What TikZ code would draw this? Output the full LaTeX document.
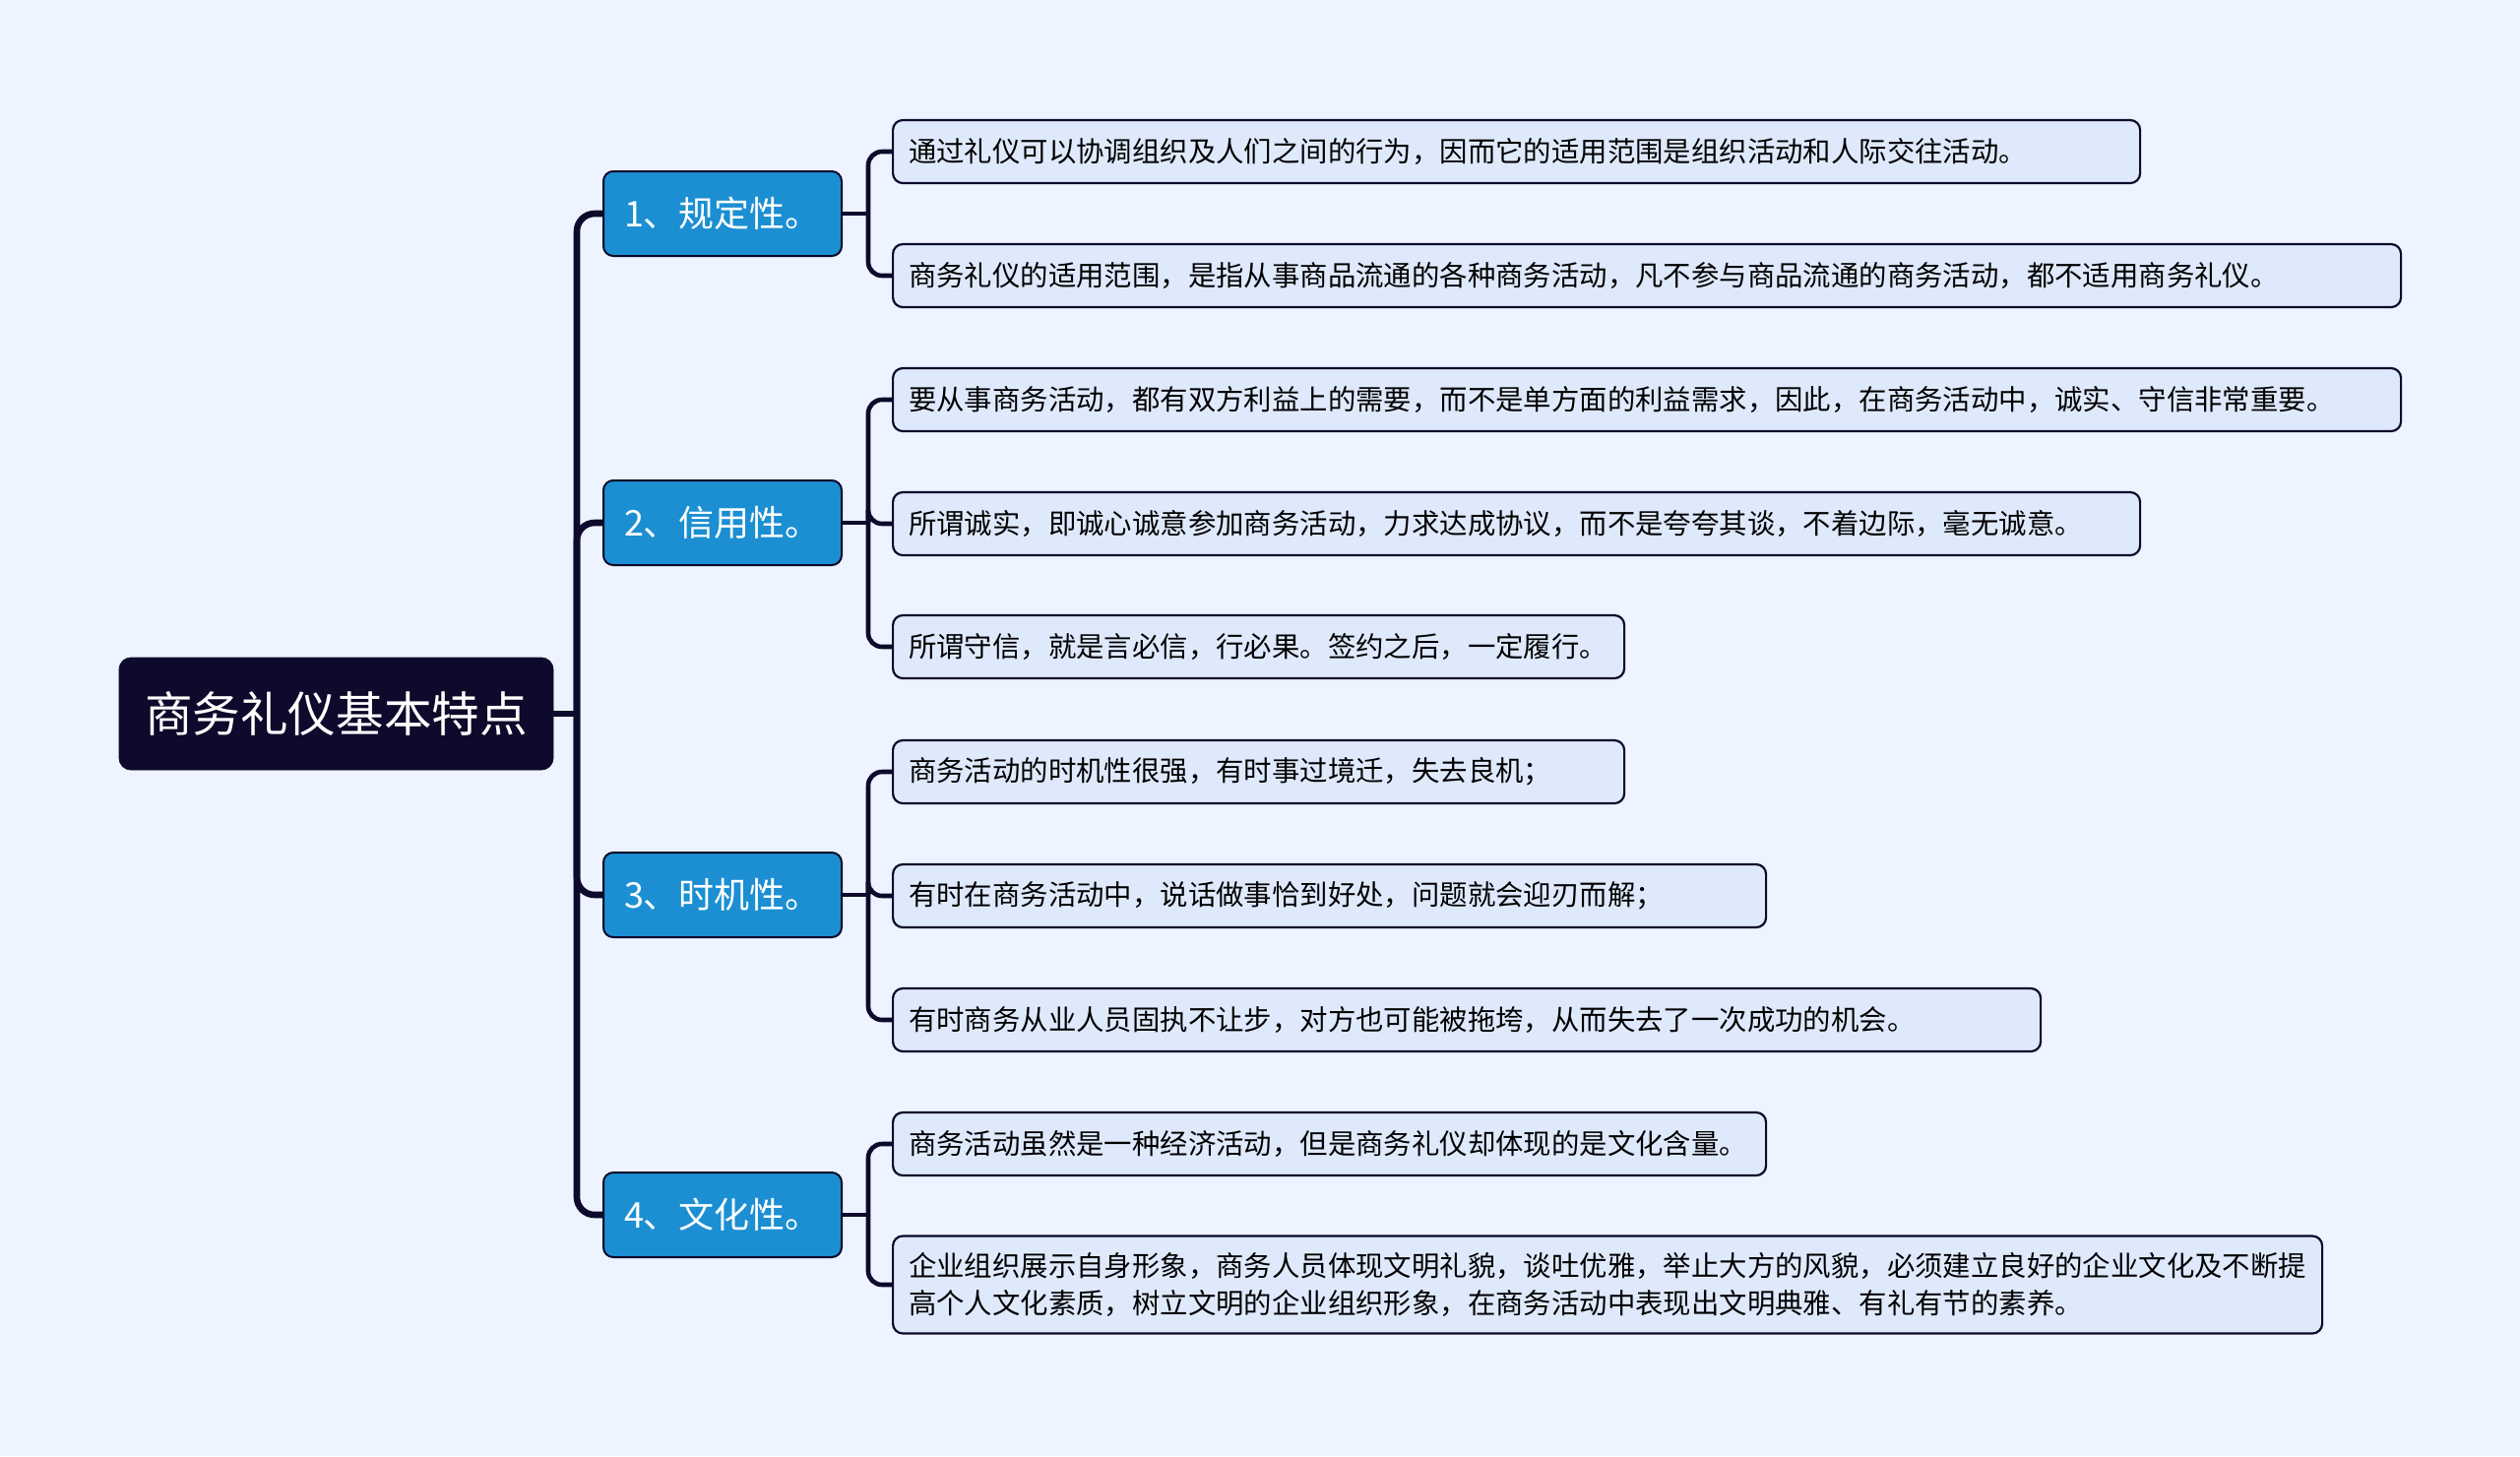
\documentclass[tikz,border=0pt]{standalone}
\usepackage{fontspec}
\setmainfont{Noto Sans CJK SC}
\usepackage{xcolor}
\definecolor{pagebg}{HTML}{EDF3FF}
\definecolor{rootnavy}{HTML}{0D0A2B}
\definecolor{topicblue}{HTML}{1B8FD2}
\definecolor{leafblue}{HTML}{DFE9FC}

\begin{document}
\begin{tikzpicture}[
    x=0.5pt, y=-0.5pt,
    rootbox/.style={draw=rootnavy, fill=rootnavy, rounded corners=6pt, text=white, font=\fontsize{24.3}{29}\selectfont, minimum width=220.5pt, minimum height=57pt, inner sep=0pt},
    topic/.style={draw=rootnavy, line width=1pt, fill=topicblue, rounded corners=5pt, text=white, font=\fontsize{18}{22}\selectfont, minimum width=121pt, minimum height=43pt, inner sep=0pt, anchor=west},
    leaf/.style={draw=rootnavy, line width=1.1pt, fill=leafblue, rounded corners=5pt, font=\fontsize{14.2}{18.8}\selectfont, align=left, inner xsep=8pt, inner ysep=0pt, minimum height=32pt, anchor=west},
    trunk/.style={draw=rootnavy, line width=3.3pt, rounded corners=9pt},
    twig/.style={draw=rootnavy, line width=2.3pt, rounded corners=7pt},
]
\fill[pagebg] (0,0) rectangle (2560,1479);
\useasboundingbox (0,0) rectangle (2560,1479);

\node[rootbox] (root) at (341.5,725) {商务礼仪基本特点};

\node[topic] (c1) at (612,217) {1、规定性。};
\node[topic] (c2) at (612,531) {2、信用性。};
\node[topic] (c3) at (612,909) {3、时机性。};
\node[topic] (c4) at (612,1234) {4、文化性。};

% leaves of 1
\node[leaf, text width=617.5pt] (l1a) at (906,154) {通过礼仪可以协调组织及人们之间的行为，因而它的适用范围是组织活动和人际交往活动。};
\node[leaf, text width=750pt] (l1b) at (906,280) {商务礼仪的适用范围，是指从事商品流通的各种商务活动，凡不参与商品流通的商务活动，都不适用商务礼仪。};

% leaves of 2
\node[leaf, text width=750pt] (l2a) at (906,406) {要从事商务活动，都有双方利益上的需要，而不是单方面的利益需求，因此，在商务活动中，诚实、守信非常重要。};
\node[leaf, text width=617.5pt] (l2b) at (906,532) {所谓诚实，即诚心诚意参加商务活动，力求达成协议，而不是夸夸其谈，不着边际，毫无诚意。};
\node[leaf, text width=355.5pt] (l2c) at (906,657) {所谓守信，就是言必信，行必果。签约之后，一定履行。};

% leaves of 3
\node[leaf, text width=355.5pt] (l3a) at (906,784) {商务活动的时机性很强，有时事过境迁，失去良机；};
\node[leaf, text width=427.5pt] (l3b) at (906,910) {有时在商务活动中，说话做事恰到好处，问题就会迎刃而解；};
\node[leaf, text width=567pt] (l3c) at (906,1036) {有时商务从业人员固执不让步，对方也可能被拖垮，从而失去了一次成功的机会。};

% leaves of 4
\node[leaf, text width=427.5pt] (l4a) at (906,1162) {商务活动虽然是一种经济活动，但是商务礼仪却体现的是文化含量。};
\node[leaf, text width=710pt, minimum height=49.5pt] (l4b) at (906,1305) {企业组织展示自身形象，商务人员体现文明礼貌，谈吐优雅，举止大方的风貌，必须建立良好的企业文化及不断提\\高个人文化素质，树立文明的企业组织形象，在商务活动中表现出文明典雅、有礼有节的素养。};

% connectors
\coordinate (spine) at (586,725);
\draw[trunk] (root.east) -- (spine);
\draw[trunk] (spine) |- (c1.west);
\draw[trunk] (spine) |- (c2.west);
\draw[trunk] (spine) |- (c3.west);
\draw[trunk] (spine) |- (c4.west);

\coordinate (t1) at ([xshift=13pt]c1.east);
\coordinate (t2) at ([xshift=13pt]c2.east);
\coordinate (t3) at ([xshift=13pt]c3.east);
\coordinate (t4) at ([xshift=13pt]c4.east);

\draw[twig] (c1.east) -- (t1);
\draw[twig] (t1) |- (l1a.west);
\draw[twig] (t1) |- (l1b.west);

\draw[twig] (c2.east) -- (t2);
\draw[twig] (t2) |- (l2a.west);
\draw[twig] (t2) |- (l2b.west);
\draw[twig] (t2) |- (l2c.west);

\draw[twig] (c3.east) -- (t3);
\draw[twig] (t3) |- (l3a.west);
\draw[twig] (t3) |- (l3b.west);
\draw[twig] (t3) |- (l3c.west);

\draw[twig] (c4.east) -- (t4);
\draw[twig] (t4) |- (l4a.west);
\draw[twig] (t4) |- (l4b.west);

\end{tikzpicture}
\end{document}
